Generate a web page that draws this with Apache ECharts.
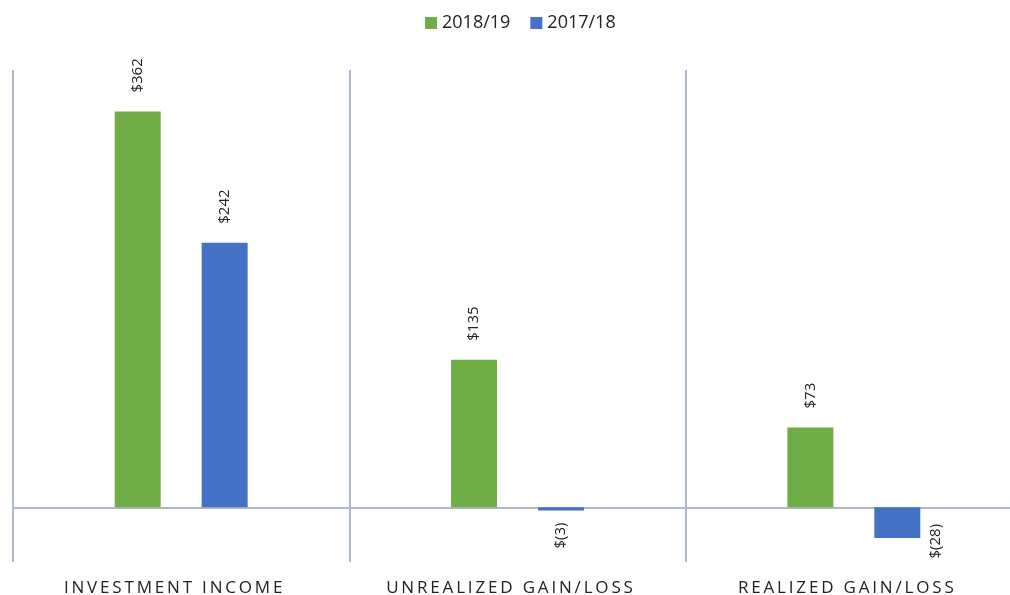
<!DOCTYPE html>
<html>
<head>
  <meta charset="utf-8">
  <title>Investment results</title>
  <script src="https://cdn.jsdelivr.net/npm/echarts@6/dist/echarts.min.js"></script>
  <style type="text/css">
    html, body, #main {
      height: 100%;
      width: 100%;
      margin: 0;
      padding: 0;
      background: #fff;
    }
  </style>
</head>
<body>
  <div id="main"></div>
  <script>
    // values (in $)
    var categories = ['INVESTMENT INCOME', 'UNREALIZED GAIN/LOSS', 'REALIZED GAIN/LOSS'];
    var fy2019 = [362, 135, 73];
    var fy2018 = [242, -3, -28];

    var lineColor = '#ADB9CA';
    var font = '"Open Sans", sans-serif';

    function money(v) {
      return v < 0 ? '$(' + Math.abs(v) + ')' : '$' + v;
    }

    // positive labels sit above the bar, negative ones below it
    function barData(values) {
      return values.map(function (v) {
        if (v >= 0) return v;
        var item = { value: v, label: { position: 'bottom', align: 'right', distance: 12 } };
        // excel pushed the long negative label to the side of the bar
        // (offset is in the rotated label's own frame)
        if (v < -10) item.label.offset = [26, 38];
        return item;
      });
    }

    var label = {
      show: true,
      position: 'top',
      rotate: 90,
      align: 'left',
      verticalAlign: 'middle',
      distance: 19,
      fontFamily: font,
      fontSize: 15,
      color: '#222',
      formatter: function (p) { return money(p.value); }
    };

    var myChart = echarts.init(document.getElementById('main'));
    myChart.setOption({
      animation: false,
      textStyle: { fontFamily: font },
      legend: {
        top: 9,
        left: 420,
        icon: 'rect',
        itemWidth: 12,
        itemHeight: 12,
        itemGap: 20,
        textStyle: { fontSize: 18, color: '#222', fontFamily: font }
      },
      // plot runs past the right edge of the picture
      grid: { left: 13, right: -12, top: 70, bottom: 33, containLabel: false, outerBoundsMode: 'none' },
      xAxis: {
        type: 'category',
        data: categories,
        axisLine: { onZero: true, lineStyle: { color: lineColor, width: 2 } },
        axisTick: { show: false },
        splitLine: { show: true, interval: 0, lineStyle: { color: lineColor, width: 2 } },
        axisLabel: {
          interval: 0,
          hideOverlap: false,
          margin: 18,
          padding: [0, 16, 0, 0],
          fontSize: 17,
          color: '#222',
          fontFamily: font,
          formatter: function (s) { return s.split('').join('\u2009'); }
        }
      },
      yAxis: {
        type: 'value',
        min: -50,
        max: 400,
        show: false,
        splitLine: { show: false }
      },
      series: [
        {
          name: '2018/19',
          type: 'bar',
          data: barData(fy2019),
          barWidth: 46,
          barGap: '89%',
          itemStyle: { color: '#70AD47' },
          label: label
        },
        {
          name: '2017/18',
          type: 'bar',
          data: barData(fy2018),
          barWidth: 46,
          itemStyle: { color: '#4472C4' },
          label: label
        }
      ]
    });
  </script>
</body>
</html>
